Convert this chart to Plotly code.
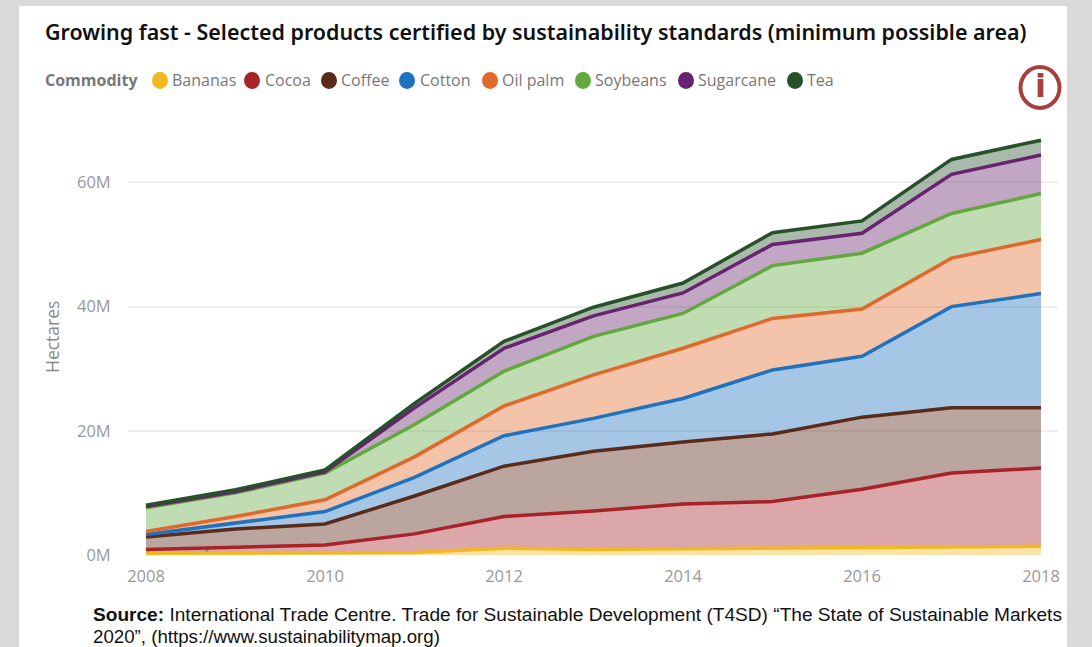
import plotly.graph_objects as go

W, H = 1092, 647
years = [2008, 2009, 2010, 2011, 2012, 2013, 2014, 2015, 2016, 2017, 2018]
bananas = [0.3, 0.3, 0.3, 0.4, 1.1, 0.9, 1.0, 1.1, 1.2, 1.4, 1.4]
cocoa = [0.6, 0.9, 1.3, 3.0, 5.1, 6.2, 7.2, 7.5, 9.4, 11.8, 12.6]
coffee = [2.0, 3.0, 3.4, 6.1, 8.1, 9.6, 10.0, 10.9, 11.6, 10.5, 9.7]
cotton = [0.4, 1.0, 2.0, 3.0, 4.9, 5.3, 7.0, 10.3, 9.8, 16.3, 18.4]
oil_palm = [0.5, 1.0, 1.9, 3.3, 4.8, 7.0, 8.1, 8.3, 7.6, 7.8, 8.7]
soybeans = [3.8, 3.8, 4.3, 5.2, 5.6, 6.2, 5.6, 8.5, 9.0, 7.2, 7.4]
sugarcane = [0.2, 0.2, 0.2, 2.7, 3.7, 3.3, 3.3, 3.4, 3.2, 6.3, 6.2]
tea = [0.2, 0.3, 0.3, 0.7, 1.1, 1.4, 1.6, 1.9, 2.0, 2.4, 2.4]

names = ["Bananas", "Cocoa", "Coffee", "Cotton", "Oil palm", "Soybeans", "Sugarcane", "Tea"]
series = [bananas, cocoa, coffee, cotton, oil_palm, soybeans, sugarcane, tea]
colors = ["#F2B822", "#A82228", "#5A2A1A", "#1F72BE", "#E0682A", "#62A83F", "#67236F", "#27512B"]
fills = ["rgba(242,184,34,0.4)", "rgba(168,34,40,0.4)", "rgba(90,42,26,0.42)", "rgba(31,114,190,0.4)",
         "rgba(224,104,42,0.4)", "rgba(98,168,63,0.4)", "rgba(103,35,111,0.4)", "rgba(39,81,43,0.4)"]
legend_dot_x = [160, 252, 329, 407, 490, 583, 686, 795]
legend_text_x = [170, 263, 339, 418, 500, 593, 696, 805]

ytick_vals = [0, 20, 40, 60]
ytick_text = ["0M", "20M", "40M", "60M"]
xtick_vals = [2008, 2010, 2012, 2014, 2016, 2018]

FONT = "Open Sans"
fig = go.Figure()
for name, vals, col, fil in zip(names, series, colors, fills):
    fig.add_trace(go.Scatter(x=years, y=vals, name=name, mode="lines", stackgroup="one",
                             line=dict(color=col, width=3.5), fillcolor=fil, showlegend=False))

def px(x): return x / W
def py(y): return 1 - y / H

shapes = [
    dict(type="rect", xref="paper", yref="paper", x0=px(19), x1=px(1067), y0=py(6), y1=py(647),
         fillcolor="white", line_width=0, layer="below"),
    dict(type="circle", xref="paper", yref="paper", x0=px(1020.5), x1=px(1059.5), y0=py(67), y1=py(108),
         fillcolor="white", line=dict(color="#A93F3E", width=4)),
]
annotations = [
    dict(text="Growing fast - Selected products certified by sustainability standards (minimum possible area)",
         x=px(45), y=py(32), font=dict(family="Noto Sans", size=21.45, color="#111111", weight=600)),
    dict(text="<b>Commodity</b>", x=px(45), y=py(80), font=dict(family=FONT, size=16, color="#777777")),
    dict(text="Hectares", x=px(52), y=py(337), xanchor="center", textangle=-90,
         font=dict(family=FONT, size=17.5, color="#888888")),
    dict(text="<b>i</b>", x=px(1040), y=py(86), xanchor="center", font=dict(family="DejaVu Sans", size=32, color="#A93F3E")),
    dict(text="<b>Source:</b> International Trade Centre. Trade for Sustainable Development (T4SD) “The State of Sustainable Markets",
         x=px(93), y=py(614), font=dict(family="Liberation Sans", size=19.1, color="#111111")),
    dict(text="2020”, (https://www.sustainabilitymap.org)", x=px(93), y=py(636),
         font=dict(family="Liberation Sans", size=18.7, color="#111111")),
    dict(text="\"", x=px(207), y=py(553), xanchor="center", font=dict(family="Liberation Sans", size=10, color="#7030A0")),
]
for a in annotations:
    a.update(xref="paper", yref="paper", showarrow=False, yanchor="middle", borderpad=0, borderwidth=0)
    a.setdefault("xanchor", "left")

for n, c, dx, tx in zip(names, colors, legend_dot_x, legend_text_x):
    shapes.append(dict(type="circle", xref="paper", yref="paper", x0=px(dx - 8), x1=px(dx + 8), y0=py(72), y1=py(89),
                       fillcolor=c, line_width=0))
    annotations.append(dict(text=n, xref="paper", yref="paper", x=px(tx), y=py(80), xanchor="left", yanchor="middle",
                            showarrow=False, font=dict(family=FONT, size=16, color="#777777")))

fig.update_layout(
    width=W, height=H, autosize=False,
    margin=dict(l=0, r=0, t=0, b=0, pad=0, autoexpand=False), paper_bgcolor="#D9D9D9", plot_bgcolor="rgba(0,0,0,0)",
    showlegend=False, shapes=shapes, annotations=annotations,
    xaxis=dict(domain=[px(128), px(1058)], range=[2008 - 18 / 89.5, 2018 + 17 / 89.5], tickvals=xtick_vals,
               showgrid=False, zeroline=False, showline=False, ticks="outside", ticklen=6, tickcolor="rgba(0,0,0,0)",
               tickfont=dict(family=FONT, size=16.5, color="#999999")),
    yaxis=dict(domain=[py(555), py(105)], range=[0, 450 / 6.21], tickvals=ytick_vals, ticktext=ytick_text,
               showgrid=True, gridcolor="#EEEEEE", gridwidth=2, zeroline=False, showline=False, ticks="outside", ticklen=13,
               tickcolor="rgba(0,0,0,0)", tickfont=dict(family=FONT, size=16.5, color="#999999")),
)
fig.write_html("out.html", config=dict(displayModeBar=False),
               post_script="document.body.style.margin='0';document.body.style.background='#D9D9D9';document.documentElement.style.overflow='hidden';")
